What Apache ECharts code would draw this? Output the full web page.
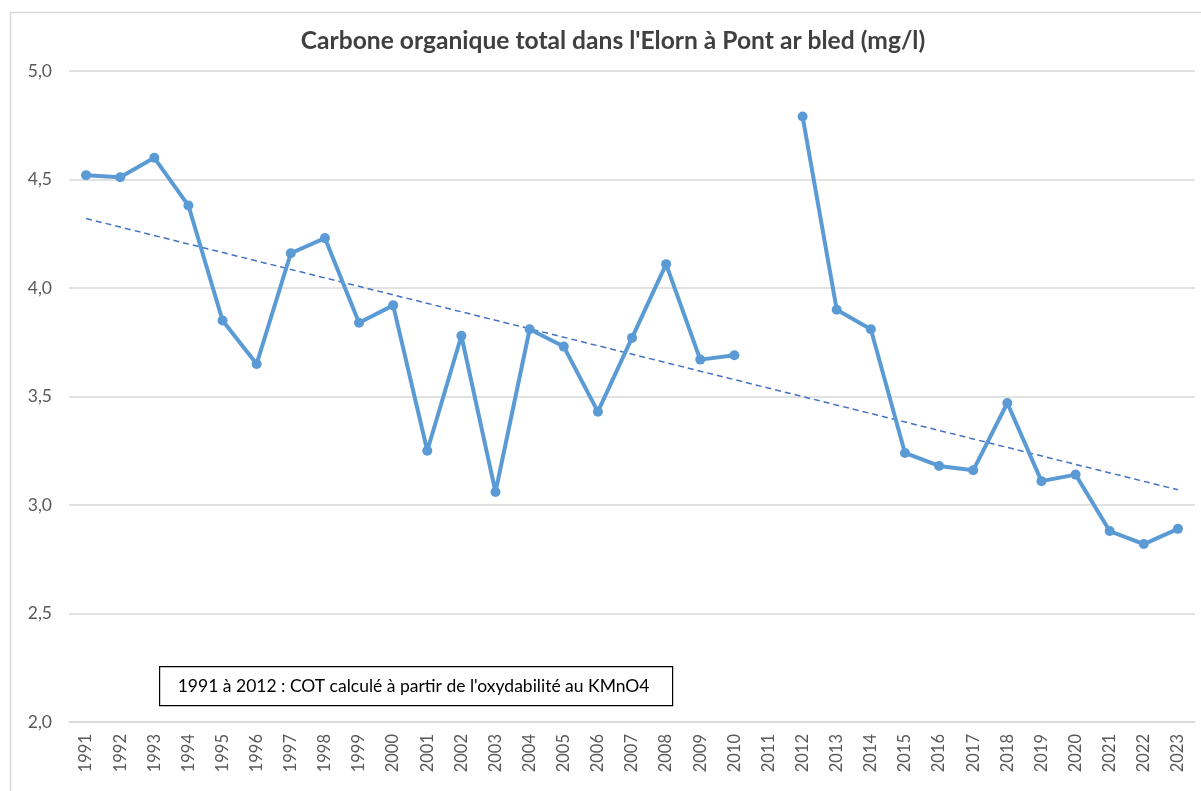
<!DOCTYPE html>
<html>
<head>
  <meta charset="UTF-8">
  <title>Carbone organique total - Elorn</title>
  <style>
    html, body { margin: 0; padding: 0; background: #fff; }
    #chart { width: 1201px; height: 791px; }
  </style>
  <script src="https://cdn.jsdelivr.net/npm/echarts@6/dist/echarts.min.js"></script>
</head>
<body>
  <div id="chart"></div>
  <script>
    // années
    var years = ['1991', '1992', '1993', '1994', '1995', '1996', '1997', '1998', '1999', '2000',
      '2001', '2002', '2003', '2004', '2005', '2006', '2007', '2008', '2009', '2010',
      '2011', '2012', '2013', '2014', '2015', '2016', '2017', '2018', '2019', '2020',
      '2021', '2022', '2023'];

    // COT moyen (mg/l), 2011 absent
    var cot = [4.52, 4.51, 4.60, 4.38, 3.85, 3.65, 4.16, 4.23, 3.84, 3.92,
      3.25, 3.78, 3.06, 3.81, 3.73, 3.43, 3.77, 4.11, 3.67, 3.69,
      null, 4.79, 3.90, 3.81, 3.24, 3.18, 3.16, 3.47, 3.11, 3.14,
      2.88, 2.82, 2.89];

    // courbe de tendance (extrémités)
    var trendStart = 4.32;
    var trendEnd = 3.07;

    var yTicks = [2.0, 2.5, 3.0, 3.5, 4.0, 4.5, 5.0];

    var noteText = "1991 à 2012 : COT calculé à partir de l'oxydabilité au KMnO4";

    var trend = years.map(function (y, i) {
      if (i === 0) return trendStart;
      if (i === years.length - 1) return trendEnd;
      return null;
    });

    var font = 'Lato, "Open Sans", sans-serif';
    var myChart = echarts.init(document.getElementById('chart'));

    var option = {
      backgroundColor: '#fff',
      animation: false,
      title: {
        text: 'Carbone organique total dans l\'Elorn à Pont ar bled (mg/l)',
        left: 613,
        textAlign: 'center',
        top: 29,
        padding: 0,
        textStyle: { fontFamily: font, fontSize: 24.6, fontWeight: 'bold', color: '#404040' }
      },
      grid: { left: 69, right: 6, top: 71, bottom: 69 },
      xAxis: {
        type: 'category',
        data: years,
        boundaryGap: true,
        axisLine: { lineStyle: { color: '#d9d9d9', width: 1.5 } },
        axisTick: { show: false },
        axisLabel: {
          rotate: 90,
          interval: 0,
          margin: 12,
          color: '#595959',
          fontFamily: font,
          fontSize: 16.5
        }
      },
      yAxis: {
        type: 'value',
        min: yTicks[0],
        max: yTicks[yTicks.length - 1],
        interval: 0.5,
        axisLine: { show: false },
        axisTick: { show: false },
        splitLine: { lineStyle: { color: '#d9d9d9', width: 1.5 } },
        axisLabel: {
          margin: 17,
          color: '#595959',
          fontFamily: font,
          fontSize: 17.5,
          formatter: function (v) { return v.toFixed(1).replace('.', ','); }
        }
      },
      series: [
        {
          name: 'COT',
          type: 'line',
          data: cot,
          connectNulls: false,
          symbol: 'circle',
          symbolSize: 10,
          lineStyle: { color: '#5b9bd5', width: 4 },
          itemStyle: { color: '#5b9bd5' },
          z: 3
        },
        {
          name: 'Tendance',
          type: 'line',
          data: trend,
          connectNulls: true,
          symbol: 'none',
          lineStyle: { color: '#4472c4', width: 1.5, type: [6, 4] },
          z: 2
        }
      ],
      graphic: [
        {
          type: 'rect',
          shape: { x: 10.5, y: 12.5, width: 1210, height: 800 },
          style: { fill: null, stroke: '#d9d9d9', lineWidth: 1.5 },
          silent: true
        },
        {
          type: 'group',
          left: 159,
          top: 666,
          z: 10,
          children: [
            {
              type: 'rect',
              shape: { x: 0, y: 0, width: 513, height: 39 },
              style: { fill: '#fff', stroke: '#000', lineWidth: 1.2 }
            },
            {
              type: 'text',
              x: 254,
              y: 20,
              style: {
                text: noteText,
                align: 'center',
                verticalAlign: 'middle',
                fontFamily: font,
                fontSize: 17.5,
                fill: '#000'
              }
            }
          ]
        }
      ]
    };

    myChart.setOption(option);
  </script>
</body>
</html>
